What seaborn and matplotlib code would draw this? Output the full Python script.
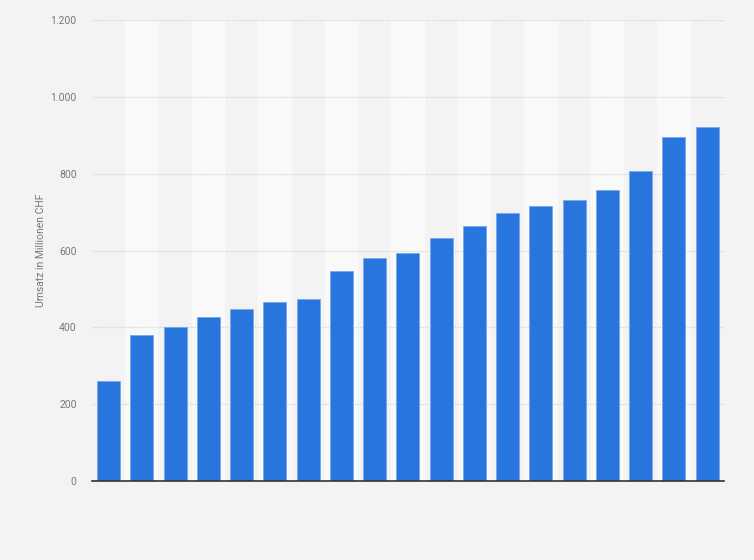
import matplotlib
matplotlib.use("Agg")
import matplotlib.pyplot as plt
import matplotlib.ticker as mticker
import seaborn as sns
import pandas as pd

# Values (x labels are not shown in the reference)
categories = ["A", "B", "C", "D", "E", "F", "G", "H", "I", "J",
              "K", "L", "M", "N", "O", "P", "Q", "R", "S"]
umsatz = [260, 379, 400, 426, 447, 465, 475, 546, 582, 593,
          634, 663, 697, 717, 733, 757, 806, 897, 923]
y_ticks = [0, 200, 400, 600, 800, 1000, 1200]

df = pd.DataFrame({"kategorie": categories, "umsatz": umsatz})

sns.set_style("white")
plt.rcParams["font.family"] = ["Roboto", "DejaVu Sans"]

fig = plt.figure(figsize=(7.54, 5.6), dpi=100, facecolor="#f3f3f3")
ax = fig.add_axes([0.122, 0.141, 0.838, 0.823])
ax.set_facecolor("#f3f3f3")

# alternating column stripes
for i in range(1, len(categories), 2):
    ax.axvspan(i - 0.5, i + 0.5, color="#f9f9f9", zorder=0, lw=0)

sns.barplot(data=df, x="kategorie", y="umsatz", color="#2876dd",
            width=0.69, edgecolor="#7aa8ea", linewidth=0.6,
            saturation=1, ax=ax, zorder=3)

ax.set_xlim(-0.5, len(categories) - 0.5)
ax.set_ylim(0, 1200)
ax.set_yticks(y_ticks)
ax.yaxis.set_major_formatter(
    mticker.FuncFormatter(lambda v, p: f"{int(v):,}".replace(",", ".")))
ax.yaxis.grid(True, color="#d4d4d4", linestyle=(0, (1, 1)), linewidth=0.9, zorder=1)
ax.set_axisbelow(True)

ax.set_xticks([])
ax.set_xlabel("")
ax.set_ylabel("Umsatz in Millionen CHF", fontsize=7.5, color="#777777", labelpad=3)
ax.tick_params(axis="y", length=0, labelsize=7.5, labelcolor="#777777", pad=11)

for s in ["top", "right", "left"]:
    ax.spines[s].set_visible(False)
ax.spines["bottom"].set_color("#333333")
ax.spines["bottom"].set_linewidth(1.2)
ax.spines["bottom"].set_zorder(4)

fig.savefig("out.png", dpi=100, facecolor=fig.get_facecolor())
